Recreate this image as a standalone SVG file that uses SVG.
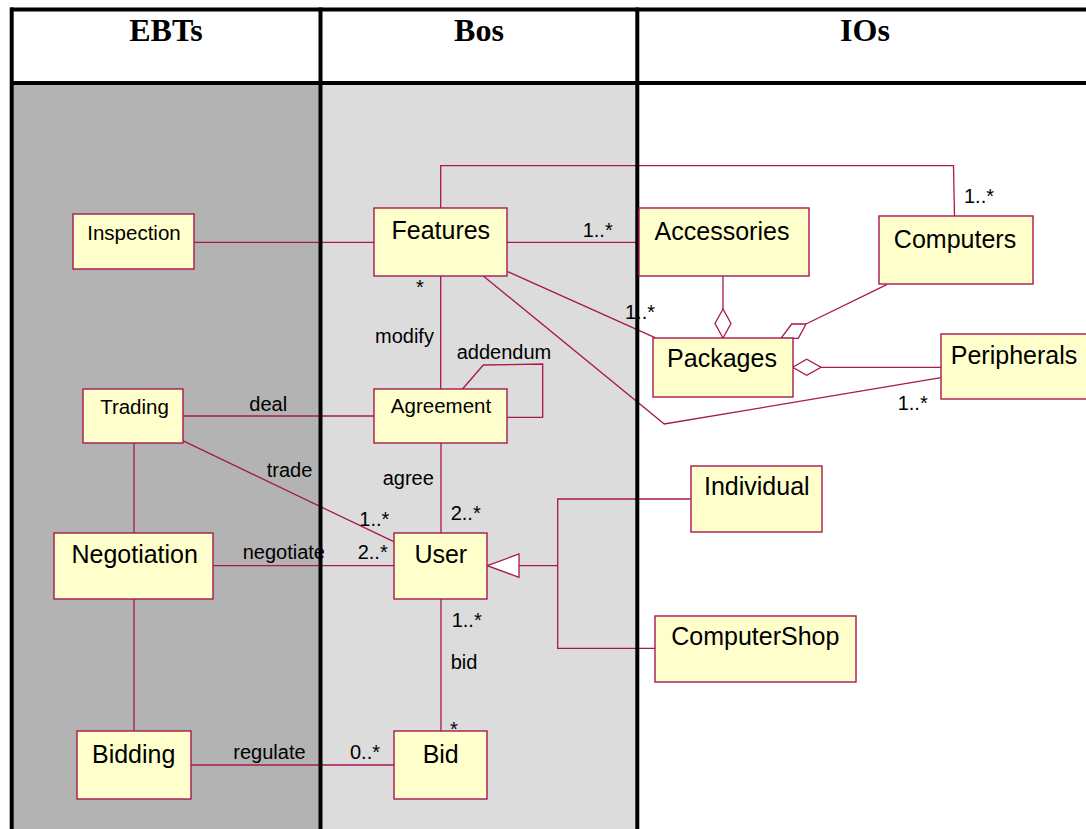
<svg xmlns="http://www.w3.org/2000/svg" width="1086" height="829" viewBox="0 0 1086 829">
  <style>
    .cls { fill: #ffffcc; stroke: #a8184f; stroke-width: 1.4; }
    .big { font-family: "Liberation Sans", Arial, sans-serif; font-size: 25px; fill: #000; text-anchor: middle; }
    .small { font-family: "Liberation Sans", Arial, sans-serif; font-size: 20.5px; fill: #000; text-anchor: middle; }
    .lbl { font-family: "Liberation Sans", Arial, sans-serif; font-size: 20px; fill: #000; }
    .head { font-family: "Liberation Serif", "Times New Roman", serif; font-size: 32px; font-weight: bold; fill: #000; text-anchor: middle; }
    .conn { fill: none; stroke: #a8184f; stroke-width: 1.3; }
    .agg { fill: #ffffff; stroke: #a8184f; stroke-width: 1.3; }
    .rule { stroke: #000; stroke-width: 4; }
  </style>

  <!-- swimlane backgrounds -->
  <rect x="0" y="0" width="1086" height="829" fill="#ffffff"/>
  <rect x="13" y="85" width="306" height="744" fill="#b3b3b3"/>
  <rect x="322" y="85" width="314" height="744" fill="#dcdcdc"/>

  <!-- associations -->
  <g id="connectors">
    <line class="conn" x1="194" y1="242.3" x2="374" y2="242.3"/>
    <line class="conn" x1="507" y1="242.3" x2="638" y2="242.3"/>
    <polyline class="conn" points="440.7,208 440.7,165.7 953.5,165.7 954.5,216"/>
    <line class="conn" x1="507.7" y1="271.7" x2="655" y2="337.7"/>
    <polyline class="conn" points="483.3,276 664.3,424 941,377.7"/>
    <line class="conn" x1="440.7" y1="276" x2="440.7" y2="389"/>
    <line class="conn" x1="723" y1="276" x2="723" y2="309"/>
    <polygon class="agg" points="723,309 731,323.5 723,338 715,323.5"/>
    <line class="conn" x1="886.7" y1="284.7" x2="806" y2="324"/>
    <polygon class="agg" points="791.7,324 806,324 798.3,338.3 781,338.3"/>
    <line class="conn" x1="821" y1="367.3" x2="941" y2="367.3"/>
    <polygon class="agg" points="792.7,367.3 806.7,359.3 821,367.3 806.7,375.3"/>
    <polyline class="conn" points="462.3,389.3 483.3,365 542.7,364 542.7,417.3 507.3,417.3"/>
    <line class="conn" x1="183" y1="416" x2="374" y2="416"/>
    <line class="conn" x1="182.7" y1="440.7" x2="393.7" y2="541.7"/>
    <line class="conn" x1="134" y1="443" x2="134" y2="533"/>
    <line class="conn" x1="213" y1="565.7" x2="394" y2="565.7"/>
    <line class="conn" x1="134" y1="599" x2="134" y2="731"/>
    <line class="conn" x1="191" y1="765" x2="394" y2="765"/>
    <line class="conn" x1="441" y1="443" x2="441" y2="533"/>
    <line class="conn" x1="441" y1="599" x2="441" y2="731"/>
    <!-- generalization -->
    <line class="conn" x1="519" y1="565.7" x2="557.7" y2="565.7"/>
    <polyline class="conn" points="690.7,499 557.7,499 557.7,648.3 655,648.3"/>
    <polygon class="agg" points="487.3,565.7 519,554 519,577.3"/>
  </g>

  <!-- role names and multiplicities -->
  <g id="labels">
    <text class="lbl" x="582.7" y="237.3">1..*</text>
    <text class="lbl" x="964" y="202.7">1..*</text>
    <text class="lbl" x="625" y="319.3">1..*</text>
    <text class="lbl" x="897.7" y="410">1..*</text>
    <text class="lbl" x="420" y="294" text-anchor="middle">*</text>
    <text class="lbl" x="375" y="343.3">modify</text>
    <text class="lbl" x="456.7" y="359.3">addendum</text>
    <text class="lbl" x="249.3" y="411">deal</text>
    <text class="lbl" x="266.7" y="477.3">trade</text>
    <text class="lbl" x="382.7" y="485">agree</text>
    <text class="lbl" x="359.3" y="526">1..*</text>
    <text class="lbl" x="450.7" y="520">2..*</text>
    <text class="lbl" x="242.7" y="559">negotiate</text>
    <text class="lbl" x="357.7" y="559">2..*</text>
    <text class="lbl" x="451.7" y="626.7">1..*</text>
    <text class="lbl" x="450.7" y="669.3">bid</text>
    <text class="lbl" x="454" y="736" text-anchor="middle">*</text>
    <text class="lbl" x="233.3" y="759.3">regulate</text>
    <text class="lbl" x="350" y="759">0..*</text>
  </g>

  <!-- table frame and headings -->
  <g id="table">
    <line class="rule" x1="10" y1="9.5" x2="1086" y2="9.5"/>
    <line class="rule" x1="10" y1="83" x2="1086" y2="83"/>
    <line class="rule" x1="11.7" y1="7.5" x2="11.7" y2="829" stroke-width="3.5"/>
    <line class="rule" x1="320.5" y1="7.5" x2="320.5" y2="829"/>
    <line class="rule" x1="637.3" y1="7.5" x2="637.3" y2="829"/>
    <text class="head" x="166" y="41">EBTs</text>
    <text class="head" x="479" y="41">Bos</text>
    <text class="head" x="865" y="41">IOs</text>
  </g>

  <!-- classes -->
  <g id="Inspection"><rect class="cls" x="73" y="214" width="121" height="55"/><text class="small" x="134" y="240">Inspection</text></g>
  <g id="Features"><rect class="cls" x="374" y="208" width="133" height="68"/><text class="big" x="440.8" y="239.3">Features</text></g>
  <g id="Accessories"><rect class="cls" x="639" y="208" width="170" height="68"/><text class="big" x="722" y="240">Accessories</text></g>
  <g id="Computers"><rect class="cls" x="879" y="216" width="154" height="68"/><text class="big" x="955" y="248.3">Computers</text></g>
  <g id="Packages"><rect class="cls" x="653" y="338" width="140" height="59"/><text class="big" x="722" y="367.3">Packages</text></g>
  <g id="Peripherals"><rect class="cls" x="941" y="334" width="150" height="65"/><text class="big" x="1014" y="364">Peripherals</text></g>
  <g id="Trading"><rect class="cls" x="83" y="389" width="100" height="54"/><text class="small" x="134.5" y="414">Trading</text></g>
  <g id="Agreement"><rect class="cls" x="374" y="389" width="133" height="54"/><text class="small" x="441" y="413.3">Agreement</text></g>
  <g id="Negotiation"><rect class="cls" x="54" y="533" width="159" height="66"/><text class="big" x="134.7" y="563.3">Negotiation</text></g>
  <g id="User"><rect class="cls" x="394" y="533" width="93" height="66"/><text class="big" x="440.8" y="563.3">User</text></g>
  <g id="Individual"><rect class="cls" x="691" y="466" width="131" height="66"/><text class="big" x="756.8" y="495">Individual</text></g>
  <g id="ComputerShop"><rect class="cls" x="655" y="616" width="201" height="66"/><text class="big" x="755.3" y="645">ComputerShop</text></g>
  <g id="Bidding"><rect class="cls" x="77" y="731" width="114" height="68"/><text class="big" x="133.7" y="762.7">Bidding</text></g>
  <g id="Bid"><rect class="cls" x="394" y="731" width="93" height="68"/><text class="big" x="440.7" y="762.7">Bid</text></g>
</svg>
